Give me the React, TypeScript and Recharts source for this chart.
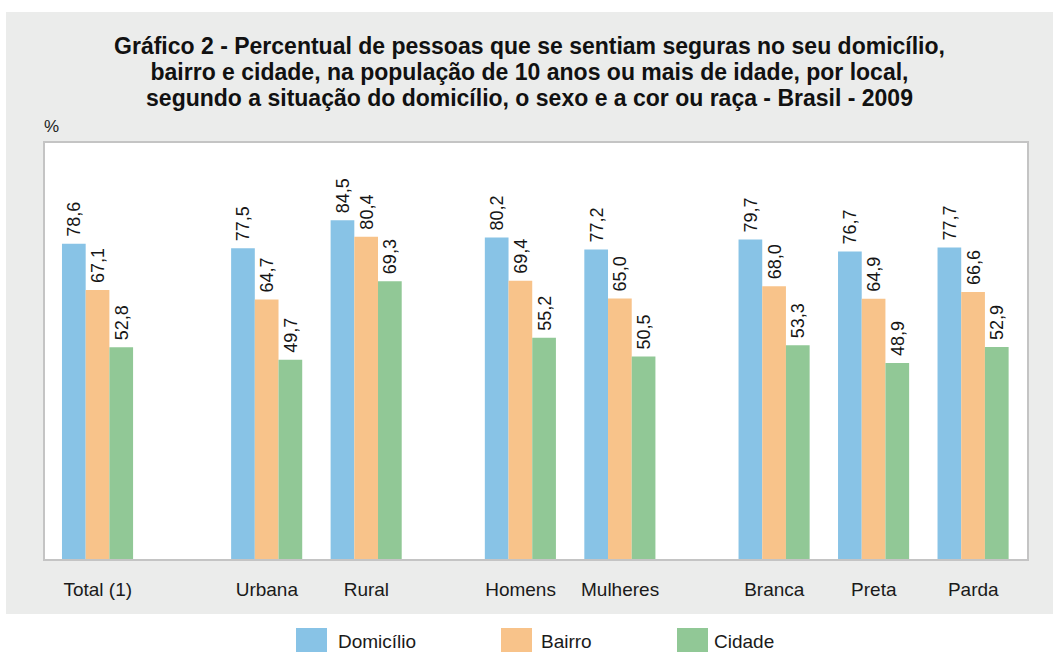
import { Bar, BarChart, LabelList, XAxis, YAxis } from 'recharts';

const categories = ['Total (1)', 'Urbana', 'Rural', 'Homens', 'Mulheres', 'Branca', 'Preta', 'Parda'];
// 0 = total, 1 = situação do domicílio, 2 = sexo, 3 = cor ou raça
const groupOf = [0, 1, 1, 2, 2, 3, 3, 3];
const domicilio = [78.6, 77.5, 84.5, 80.2, 77.2, 79.7, 76.7, 77.7];
const bairro = [67.1, 64.7, 80.4, 69.4, 65.0, 68.0, 64.9, 66.6];
const cidade = [52.8, 49.7, 69.3, 55.2, 50.5, 53.3, 48.9, 52.9];
const seriesNames = ['Domicílio', 'Bairro', 'Cidade'];

const COLORS = ['#88c3e6', '#f8c38a', '#91c896'];
const FONT = '"Liberation Sans", Arial, Helvetica, sans-serif';
// extra space inserted before each new group (in category steps)
const GROUP_GAP = [0, 0.7, 0.55, 0.55];

function slotPositions() {
  let extra = 0;
  return categories.map((_, i) => {
    if (i > 0 && groupOf[i] !== groupOf[i - 1]) extra += GROUP_GAP[groupOf[i]];
    return i + extra;
  });
}

const positions = slotPositions();
const data = categories.map((name, i) => ({
  name,
  pos: positions[i],
  domicilio: domicilio[i],
  bairro: bairro[i],
  cidade: cidade[i],
}));
const keys = ['domicilio', 'bairro', 'cidade'];

const fmt = (v: number) => v.toFixed(1).replace('.', ',');

function VerticalLabel(props: any) {
  const { x, y, width, value } = props;
  const cx = Number(x) + Number(width) / 2;
  const ty = Number(y) - 7;
  return (
    <text
      x={cx}
      y={ty}
      dy="0.36em"
      transform={`rotate(-90 ${cx} ${ty})`}
      textAnchor="start"
      fontSize={18}
      fontFamily={FONT}
      fill="#151515"
    >
      {fmt(Number(value))}
    </text>
  );
}

export default function App() {
  return (
    <div
      style={{
        position: 'absolute',
        left: 0,
        top: 0,
        width: 1053,
        height: 652,
        background: '#fff',
        fontFamily: FONT,
        overflow: 'hidden',
      }}
    >
      <div
        style={{
          position: 'absolute',
          left: 6,
          top: 12,
          width: 1047,
          height: 602,
          background: '#ebeceb',
        }}
      />
      <div
        style={{
          position: 'absolute',
          left: 6,
          top: 33,
          width: 1047,
          textAlign: 'center',
          fontWeight: 'bold',
          fontSize: 23,
          lineHeight: '26px',
          color: '#111',
        }}
      >
        Gráfico 2 - Percentual de pessoas que se sentiam seguras no seu domicílio,
        <br />
        bairro e cidade, na população de 10 anos ou mais de idade, por local,
        <br />
        segundo a situação do domicílio, o sexo e a cor ou raça - Brasil - 2009
      </div>
      <div style={{ position: 'absolute', left: 44, top: 117, fontSize: 17, color: '#222' }}>%</div>
      <div
        style={{
          position: 'absolute',
          left: 43,
          top: 141,
          width: 982,
          height: 416,
          background: '#fff',
          border: '2px solid #c4c4c4',
        }}
      />
      <div style={{ position: 'absolute', left: 0, top: 0 }}>
        <BarChart
          width={1053}
          height={652}
          data={data}
          barGap={0}
          margin={{ top: 142, left: 44, right: 26, bottom: 63 }}
        >
          <XAxis
            type="number"
            dataKey="pos"
            domain={[-0.54, 9.34]}
            ticks={positions}
            interval={0}
            height={30}
            tickFormatter={(v: number) => categories[positions.indexOf(v)] ?? ''}
            axisLine={false}
            tickLine={false}
            tickMargin={18}
            tick={{ fontSize: 19, fill: '#1a1a1a', fontFamily: FONT }}
            allowDataOverflow
          />
          <YAxis hide domain={[0, 104]} />
          {keys.map((k, i) => (
            <Bar
              key={k}
              dataKey={k}
              name={seriesNames[i]}
              fill={COLORS[i]}
              barSize={23.7}
              isAnimationActive={false}
            >
              <LabelList dataKey={k} content={<VerticalLabel />} />
            </Bar>
          ))}
        </BarChart>
      </div>
      {seriesNames.map((name, i) => (
        <div
          key={name}
          style={{
            position: 'absolute',
            left: [296, 501, 677][i],
            top: 628,
            height: 24,
            display: 'flex',
            alignItems: 'center',
            fontSize: 19,
            color: '#1a1a1a',
          }}
        >
          <span style={{ width: 31, height: 24, background: COLORS[i], marginRight: [11, 9, 6][i] }} />
          <span style={{ position: 'relative', top: 2 }}>{name}</span>
        </div>
      ))}
    </div>
  );
}
